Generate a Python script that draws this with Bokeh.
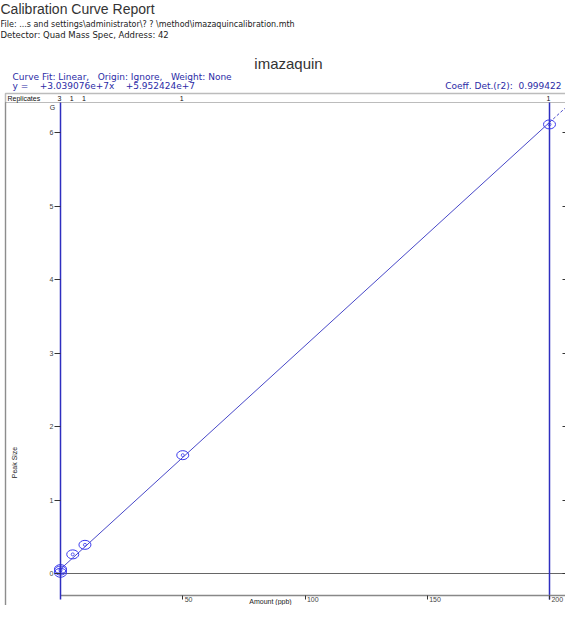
import numpy as np
from bokeh.plotting import figure
from bokeh.models import Label, LinearAxis, FixedTicker, ColumnDataSource, Range1d, BoxAnnotation
from bokeh.core.properties import value
from bokeh.embed import file_html
from bokeh.resources import INLINE

# ---- data ----
report_title = "Calibration Curve Report"
file_line = "File: ...s and settings\\administrator\\? ? \\method\\imazaquincalibration.mth"
detector_line = "Detector: Quad Mass Spec, Address: 42"
compound = "imazaquin"
amount_ppb = [0, 0, 0, 5, 10, 50, 200]
peak_size_G = [0.01, 0.04, 0.06, 0.26, 0.39, 1.61, 6.11]
slope = 3.039076e7
intercept = 5.952424e7
r2 = 0.999422
y_ticks = [0, 1, 2, 3, 4, 5, 6]
x_ticks = [50, 100, 150, 200]

FONT = "Liberation Sans"
SMALL_FONT = "DejaVu Sans"
BLUE_TXT = "#2b2ba6"
BLUE_LINE = "#2e2ec0"
MARK = "#3a3aee"
NB = "\u00a0"

W, H = 565, 605
# pixel scale helpers (figure pixel -> data)
X0PX, XSC = 60.0, 2.445      # x=0 at fig px 60, px per ppb
Y0PX, YSC = 573.0, 73.5      # y=0 at fig px 573, px per 1e9
def px2x(px):
    return (px - X0PX) / XSC
def px2y(py):
    return (Y0PX - py) / YSC

x_start, x_end = px2x(0), px2x(W)
y_start, y_end = px2y(H), px2y(0)

p = figure(width=W, height=H, output_backend="svg", toolbar_location=None,
           x_range=Range1d(x_start, x_end), y_range=Range1d(y_start, y_end),
           x_axis_location=None, y_axis_location=None,
           min_border_left=0, min_border_right=0, min_border_top=0, min_border_bottom=0)
p.outline_line_color = None
p.xgrid.visible = False
p.ygrid.visible = False
p.background_fill_color = "white"
p.border_fill_color = "white"

BOX_L, BOX_T, STRIP_B, AX_B = 5, 93, 102, 599
strip_top = px2y(BOX_T)
strip_bottom = px2y(STRIP_B)
axis_bottom = px2y(AX_B)

# chart box (left + top edges; right/bottom run off the page as in the reference)
p.add_layout(BoxAnnotation(left=px2x(BOX_L), right=x_end + 50, top=strip_top, bottom=y_start - 5,
                           fill_color=None, line_color="#222222", line_width=1.5))
p.add_layout(BoxAnnotation(left=px2x(BOX_L), right=x_end + 50, top=strip_bottom, bottom=y_start - 5,
                           fill_color=None, line_color="#222222", line_width=1.2))

# axes
yax = LinearAxis(ticker=FixedTicker(ticks=y_ticks), fixed_location=0)
yax.bounds = (axis_bottom, strip_bottom)
yax.axis_line_color = BLUE_LINE
yax.axis_line_width = 1.5
yax.major_tick_in = 0
yax.major_tick_out = 6
yax.major_tick_line_color = "#333333"
yax.minor_tick_line_color = None
yax.major_label_text_font = FONT
yax.major_label_text_font_size = "7px"
yax.major_label_text_color = "#444444"
yax.major_label_standoff = 1
p.add_layout(yax, "left")

xax = LinearAxis(ticker=FixedTicker(ticks=x_ticks), fixed_location=-0.299)
xax.bounds = (0, x_end)
xax.axis_line_color = "#888888"
xax.axis_line_width = 1.5
xax.major_tick_in = 0
xax.major_tick_out = 4
xax.major_tick_line_color = "#333333"
xax.minor_tick_line_color = None
xax.major_label_text_font = FONT
xax.major_label_text_font_size = "7px"
xax.major_label_text_color = "#444444"
xax.major_label_standoff = -3
xax.major_label_overrides = {t: NB * (6 + 2 * (len(str(t)) - 2)) + str(t) for t in x_ticks}
p.add_layout(xax, "below")

rax = LinearAxis(ticker=FixedTicker(ticks=y_ticks), fixed_location=px2x(562))
rax.axis_line_color = None
rax.major_tick_in = 0
rax.major_tick_out = 3
rax.major_tick_line_color = "#333333"
rax.minor_tick_line_color = None
rax.major_label_text_color = None
p.add_layout(rax, "right")

# reference lines: y = 0 baseline and top-standard vertical line
xmax = max(amount_ppb)
p.segment(x0=[0], y0=[0], x1=[x_end], y1=[0], line_color="#666666", line_width=1.2)
p.segment(x0=[xmax], y0=[axis_bottom], x1=[xmax], y1=[strip_bottom], line_color=BLUE_LINE, line_width=1.5)

# fit line
scale = 1e9
xs_fit = [0, xmax]
ys_fit = [(slope * x + intercept) / scale for x in xs_fit]
p.line(xs_fit, ys_fit, line_color="#4848c8", line_width=1)
xs_ext = [xmax, xmax + 20]
ys_ext = [(slope * x + intercept) / scale for x in xs_ext]
p.line(xs_ext, ys_ext, line_color="#4848c8", line_width=1, line_dash="3 2")

# points
src = ColumnDataSource(dict(x=amount_ppb, y=peak_size_G))
p.ellipse(x="x", y="y", width=12, height=9, width_units="screen", height_units="screen",
          source=src, fill_color=None, line_color=MARK, line_width=1)
p.scatter(x="x", y="y", size=3, marker="circle", source=src, fill_color=None,
          line_color=MARK, line_width=0.8)

# replicates strip
ux = sorted(set(amount_ppb))
counts = [str(amount_ppb.count(u)) for u in ux]
strip_mid = (strip_top + strip_bottom) / 2
p.text(x=ux, y=[strip_mid] * len(ux), text=counts, text_font=value(FONT),
       text_font_size="7px", text_align="right", text_baseline="middle", text_color="#111111",
       x_offset=1)

def lab(text, fx, fy, size, color="#222222", align="left", baseline="middle", angle=0, font=FONT):
    p.add_layout(Label(x=px2x(fx), y=px2y(fy), text=text, text_font=font, text_font_size=size,
                       text_color=color, text_align=align, text_baseline=baseline, angle=angle))

sp3 = NB * 3
lab("Replicates", 7, BOX_T + 4.5, "7px", "#111111")
lab(report_title, 0, 8, "14px", "#333333")
lab(file_line, 0, 24, "8px", "#222222", font=SMALL_FONT)
lab(detector_line, 0, 34, "8.5px", "#222222", font=SMALL_FONT)
lab(compound, 288, 63, "15px", "#333333", align="center")
lab("Curve Fit: Linear," + sp3 + "Origin: Ignore," + sp3 + "Weight: None", 12, 76, "9px",
    BLUE_TXT, font=SMALL_FONT)
lab("y =" + NB * 4 + "+%.6fe+7x" % (slope / 1e7) + NB * 4 + "+%.6fe+7" % (intercept / 1e7),
    12, 85, "9px", BLUE_TXT, font=SMALL_FONT)
lab("Coeff. Det.(r2):" + NB * 2 + "%.6f" % r2, 561, 85, "9px", BLUE_TXT, align="right", font=SMALL_FONT)
lab("G", 52, 107, "7px", "#333333", align="center")
lab("Peak Size", 14, 462, "7px", "#222222", align="center", angle=np.pi / 2)
lab("Amount (ppb)", 270, 597, "7px", "#222222", align="center", baseline="top")

open("out.html", "w").write(file_html(p, INLINE))
